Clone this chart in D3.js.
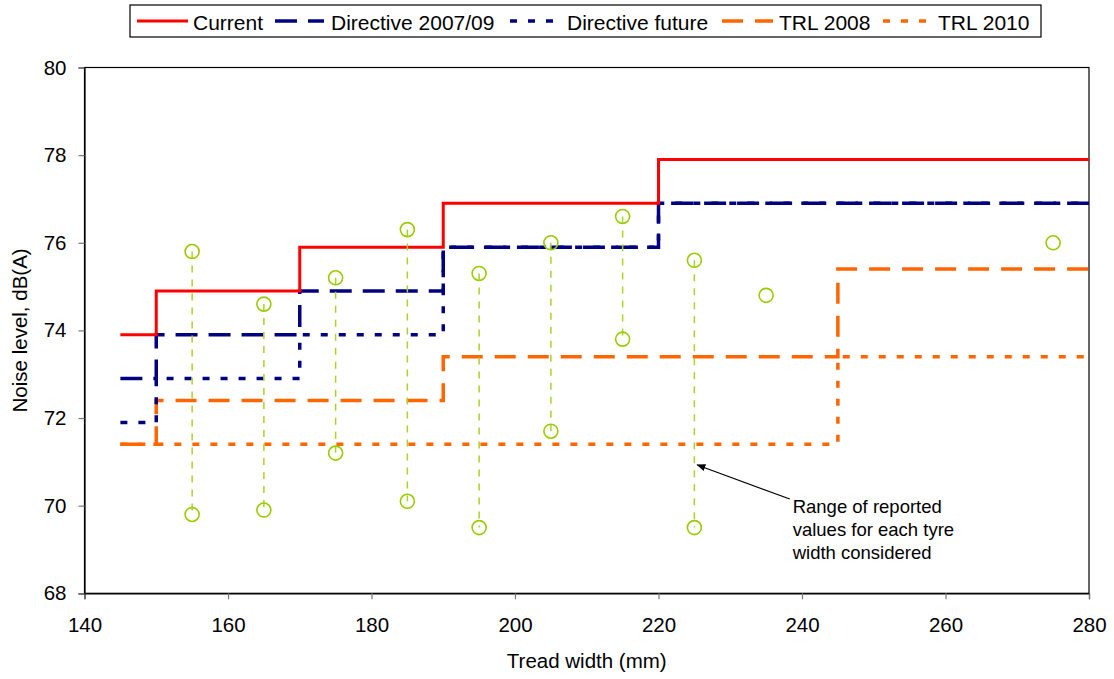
<!DOCTYPE html>
<html>
<head>
<meta charset="utf-8">
<script src="https://cdn.jsdelivr.net/npm/d3@7"></script>
<style>
  html, body { margin: 0; padding: 0; background: #fff; }
  svg { display: block; font-family: "Liberation Sans", Arial, sans-serif; }
</style>
</head>
<body>
<svg id="chart" width="1114" height="679"></svg>
<script>
// ---- data ----
const xTicks = [140, 160, 180, 200, 220, 240, 260, 280];
const yTicks = [68, 70, 72, 74, 76, 78, 80];

const seriesNames = ["Current", "Directive 2007/09", "Directive future", "TRL 2008", "TRL 2010"];

const currentX = [145, 150, 170, 190, 220];
const currentY = [73.9, 74.9, 75.9, 76.9, 77.9];
const directiveX = [145, 150, 170, 190, 220];
const directiveY = [72.9, 73.9, 74.9, 75.9, 76.9];
const futureX = [145, 150, 170, 190, 220];
const futureY = [71.9, 72.9, 73.9, 75.9, 76.9];
const trl2008X = [145, 150, 190, 245];
const trl2008Y = [71.4, 72.4, 73.4, 75.4];
const trl2010X = [145, 245];
const trl2010Y = [71.4, 73.4];
const stepEnd = 280;

const tyreWidths = [155, 165, 175, 185, 195, 205, 215, 225, 235, 275];
const reportedMax = [75.8, 74.6, 75.2, 76.3, 75.3, 76.0, 76.6, 75.6, 74.8, 76.0];
const reportedMin = [69.8, 69.9, 71.2, 70.1, 69.5, 71.7, 73.8, 69.5, 74.8, 76.0];

const noteLines = ["Range of reported", "values for each tyre", "width considered"];
const notePos = { x: 238.7, y: 69.83 };
const arrowFrom = { x: 238.3, y: 70.15 };
const arrowTo = { x: 225.4, y: 70.93 };

// ---- layout ----
const svg = d3.select("#chart");
const pLeft = 84.5, pRight = 1089, pTop = 67.5, pBottom = 593.3;
const x = d3.scaleLinear().domain([140, 280]).range([pLeft, pRight]);
const y = d3.scaleLinear().domain([68, 80]).range([pBottom, pTop]);

const styles = [
  { color: "#ff0000", width: 3, dash: null },
  { color: "#000080", width: 3.5, dash: "22,11" },
  { color: "#000080", width: 3.5, dash: "7,11" },
  { color: "#ff6600", width: 3.5, dash: "21,12" },
  { color: "#ff6600", width: 3.5, dash: "7,11" }
];

const seriesData = [
  [currentX, currentY], [directiveX, directiveY], [futureX, futureY],
  [trl2008X, trl2008Y], [trl2010X, trl2010Y]
].map(([xs, ys]) => {
  const pts = xs.map((v, i) => [v, ys[i]]);
  pts.push([stepEnd, ys[ys.length - 1]]);
  return pts;
});

// frame
svg.append("rect")
  .attr("x", pLeft).attr("y", pTop)
  .attr("width", pRight - pLeft).attr("height", pBottom - pTop)
  .attr("fill", "none").attr("stroke", "#000").attr("stroke-width", 1.2);

// axes
const xAxis = d3.axisBottom(x).tickValues(xTicks).tickSize(6).tickPadding(18).tickFormat(d3.format("d"));
const gx = svg.append("g").attr("transform", `translate(0,${pBottom})`).call(xAxis);
const yAxis = d3.axisLeft(y).tickValues(yTicks).tickSize(6).tickPadding(12).tickFormat(d3.format("d"));
const gy = svg.append("g").attr("transform", `translate(${pLeft},0)`).call(yAxis);
[gx, gy].forEach(g => {
  g.select(".domain").attr("stroke", "#000").attr("stroke-width", 1.2);
  g.selectAll(".tick line").attr("stroke", "#777").attr("stroke-width", 1.2);
  g.selectAll(".tick text").attr("font-size", 20.5).attr("fill", "#000")
    .attr("font-family", "Liberation Sans, Arial, sans-serif");
});

// axis titles
svg.append("text").attr("x", (pLeft + pRight) / 2).attr("y", 668)
  .attr("text-anchor", "middle").attr("font-size", 20.5).text("Tread width (mm)");
svg.append("text").attr("transform", `translate(27,${(pTop + pBottom) / 2}) rotate(-90)`)
  .attr("text-anchor", "middle").attr("font-size", 20.5).text("Noise level, dB(A)");

// step lines (drawn bottom-most first)
const line = d3.line().x(d => x(d[0])).y(d => y(d[1])).curve(d3.curveStepAfter);
for (let i = seriesData.length - 1; i >= 0; i--) {
  const s = styles[i];
  svg.append("path").datum(seriesData[i])
    .attr("d", line)
    .attr("fill", "none")
    .attr("stroke", s.color)
    .attr("stroke-width", s.width)
    .attr("stroke-dasharray", s.dash)
    .attr("stroke-linejoin", "miter");
}

// reported ranges
const gr = svg.append("g");
tyreWidths.forEach((w, i) => {
  if (reportedMax[i] !== reportedMin[i]) {
    gr.append("line")
      .attr("x1", x(w)).attr("x2", x(w))
      .attr("y1", y(reportedMax[i])).attr("y2", y(reportedMin[i]))
      .attr("stroke", "#a8d42a").attr("stroke-width", 1.5)
      .attr("stroke-dasharray", "7,7");
  }
  [reportedMax[i], reportedMin[i]].forEach((v, k) => {
    if (k === 1 && reportedMax[i] === reportedMin[i]) return;
    gr.append("circle").attr("cx", x(w)).attr("cy", y(v)).attr("r", 7)
      .attr("fill", "none").attr("stroke", "#99cc00").attr("stroke-width", 1.6);
  });
});

// annotation
const defs = svg.append("defs");
defs.append("marker").attr("id", "arr").attr("viewBox", "0 0 10 10")
  .attr("refX", 9).attr("refY", 5).attr("markerWidth", 9).attr("markerHeight", 9)
  .attr("markerUnits", "userSpaceOnUse").attr("orient", "auto")
  .append("path").attr("d", "M0,1 L10,5 L0,9 Z").attr("fill", "#000");
svg.append("line")
  .attr("x1", x(arrowFrom.x)).attr("y1", y(arrowFrom.y))
  .attr("x2", x(arrowTo.x)).attr("y2", y(arrowTo.y))
  .attr("stroke", "#000").attr("stroke-width", 1.1).attr("marker-end", "url(#arr)");
const note = svg.append("text").attr("x", x(notePos.x)).attr("y", y(notePos.y)).attr("font-size", 18.5);
noteLines.forEach((t, i) => note.append("tspan").attr("x", x(notePos.x)).attr("dy", i === 0 ? 0 : 23).text(t));

// legend
const lg = svg.append("g");
lg.append("rect").attr("x", 130).attr("y", 5).attr("width", 911).attr("height", 32)
  .attr("fill", "#fff").attr("stroke", "#000").attr("stroke-width", 1.2);
const legendItems = [
  { sx: 137, ex: 188, tx: 193 },
  { sx: 275, ex: 324, tx: 331 },
  { sx: 510, ex: 553, tx: 567 },
  { sx: 722, ex: 773, tx: 779 },
  { sx: 883, ex: 927, tx: 938 }
];
const legendDash = [null, "22,11", "7,11", "21,12", "7,11"];
legendItems.forEach((it, i) => {
  lg.append("line").attr("x1", it.sx).attr("x2", it.ex).attr("y1", 21).attr("y2", 21)
    .attr("stroke", styles[i].color).attr("stroke-width", styles[i].width)
    .attr("stroke-dasharray", legendDash[i]);
  lg.append("text").attr("x", it.tx).attr("y", 29.5).attr("font-size", 21).text(seriesNames[i]);
});
</script>
</body>
</html>
